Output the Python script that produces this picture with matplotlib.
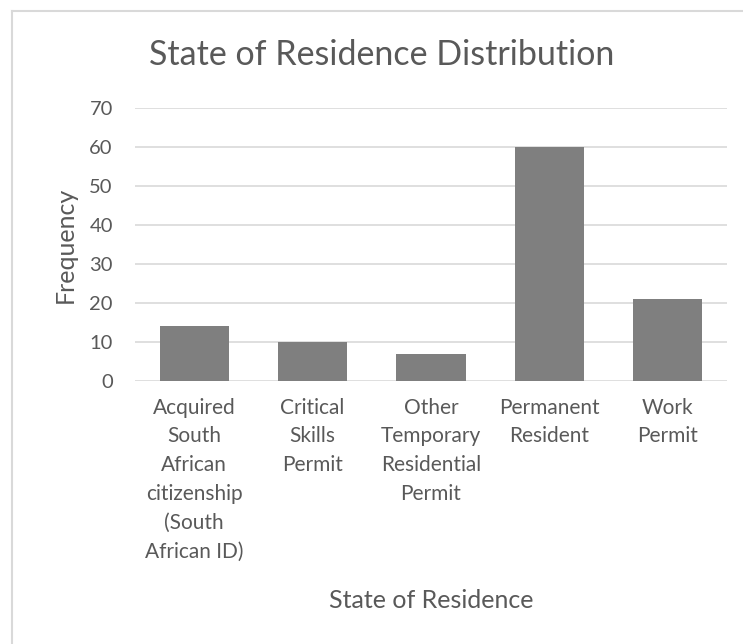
import matplotlib.pyplot as plt
from matplotlib.lines import Line2D
import numpy as np

categories = [
    "Acquired\nSouth\nAfrican\ncitizenship\n(South\nAfrican ID)",
    "Critical\nSkills\nPermit",
    "Other\nTemporary\nResidential\nPermit",
    "Permanent\nResident",
    "Work\nPermit",
]
frequency = [14, 10, 7, 60, 21]
y_ticks = [0, 10, 20, 30, 40, 50, 60, 70]

TEXT = "#595959"
plt.rcParams["font.family"] = ["Lato", "DejaVu Sans"]

W, H = 743, 644
fig = plt.figure(figsize=(W / 100, H / 100), dpi=100)
# plot area: x 135..727 px, y 108..381 px
ax = fig.add_axes([135 / W, 1 - 381 / H, (727 - 135) / W, (381 - 108) / H])

x = np.arange(len(categories))
ax.bar(x, frequency, width=0.585, color="#7f7f7f", zorder=3)

ax.set_xlim(-0.5, len(categories) - 0.5)
ax.set_ylim(0, 70)
ax.set_yticks(y_ticks)
ax.set_xticks(x)
ax.set_xticklabels(categories, fontsize=15, color=TEXT, linespacing=1.55, va="top")
ax.tick_params(axis="y", labelsize=14.5, colors=TEXT, length=0, pad=16)
ax.tick_params(axis="x", length=0, pad=12)
ax.grid(axis="y", color="#d9d9d9", linewidth=1.2, zorder=0)
for s in ax.spines.values():
    s.set_visible(False)

fig.text(65 / W, 1 - 245 / H, "Frequency", fontsize=18, color=TEXT, rotation=90,
         ha="center", va="center")
fig.text(431 / W, 1 - 601 / H, "State of Residence", fontsize=18, color=TEXT,
         ha="center", va="center")
fig.text(382 / W, 1 - 55 / H, "State of Residence Distribution", fontsize=24.5, color=TEXT,
         ha="center", va="center")

# chart border (only left and top edges are visible in the crop)
fig.add_artist(Line2D([12 / W, 12 / W], [0, 1 - 11 / H], transform=fig.transFigure,
                      color="#d9d9d9", linewidth=1.5))
fig.add_artist(Line2D([12 / W, 1], [1 - 11 / H, 1 - 11 / H], transform=fig.transFigure,
                      color="#d9d9d9", linewidth=1.5))

fig.savefig("out.png", dpi=100)
